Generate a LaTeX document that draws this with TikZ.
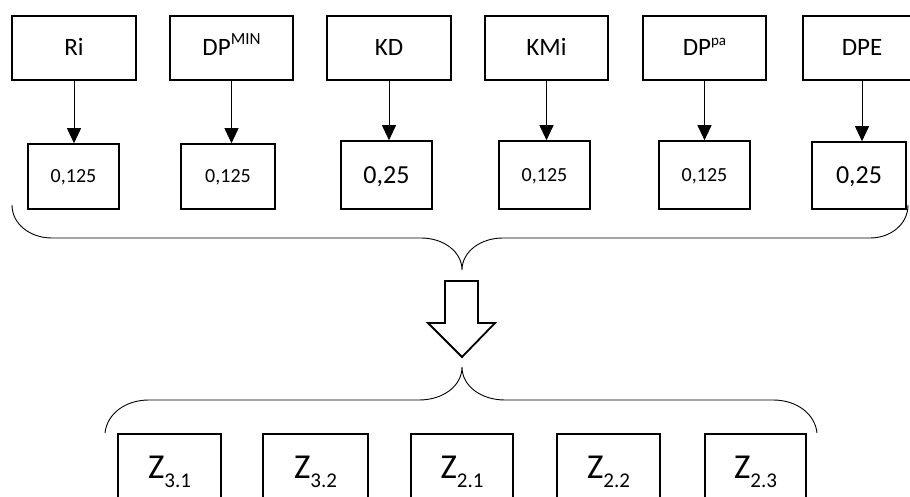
\documentclass[tikz,border=0pt]{standalone}
\usepackage{fontspec}
\setmainfont{Carlito}
\usetikzlibrary{arrows.meta}

\begin{document}
\begin{tikzpicture}[x=1pt,y=-1pt,
  box/.style={draw, line width=1.6pt, inner sep=0pt, anchor=center},
  topbox/.style={box, minimum width=124pt, minimum height=64pt,
    text height=16pt, text depth=0pt, font=\fontsize{25}{30}\selectfont},
  valbox/.style={box, minimum width=92pt, text depth=0pt},
  smallval/.style={valbox, minimum height=65pt, text height=13pt, font=\fontsize{20}{24}\selectfont},
  largeval/.style={valbox, minimum height=68pt, text height=17pt, font=\fontsize{26}{30}\selectfont},
  zbox/.style={box, minimum width=103pt, minimum height=65pt,
    text height=23pt, text depth=0pt, font=\fontsize{35}{40}\selectfont},
  feed/.style={line width=0.9pt, -{Triangle[width=14pt,length=15pt]}},
  brace/.style={line width=0.9pt},
  hollow/.style={line width=1.8pt, miter limit=10},
]
\clip (0,0) rectangle (910,497);
\fill[white] (0,0) rectangle (910,497);

% indicators
\node[topbox] (ri)   at (74,48)    {Ri};
\node[topbox, minimum width=123pt] (dpmin) at (231.5,48) {DP\raisebox{11pt}{\fontsize{17}{17}\selectfont MIN}};
\node[topbox] (kd)   at (389,48)   {KD};
\node[topbox, minimum width=123pt] (kmi)  at (546.5,48) {KMi};
\node[topbox, minimum width=123pt] (dppa) at (704.5,48) {DP\raisebox{10pt}{\fontsize{15}{15}\selectfont pa}};
\node[topbox, minimum width=118pt] (dpe)  at (862,48)   {DPE};

% weights
\node[smallval, minimum width=91pt] (wri)    at (73.5,176.5) {0,125};
\node[smallval, minimum width=94pt] (wdpmin) at (228,176.5)  {0,125};
\node[largeval, minimum width=91pt] (wkd)    at (386.5,175)  {0,25};
\node[smallval, minimum width=91pt, minimum height=68pt] (wkmi)  at (544.5,175) {0,125};
\node[smallval, minimum width=91pt, minimum height=68pt] (wdppa) at (704.5,175) {0,125};
\node[largeval, minimum width=94pt, minimum height=67pt] (wdpe)  at (859,175.5) {0,25};

\foreach \a/\b in {ri/wri, dpmin/wdpmin, kd/wkd, kmi/wkmi, dppa/wdppa, dpe/wdpe}
  \draw[feed] (\a.south) -- (\a.south |- \b.north);

% upper brace
\coordinate (ul) at (12,205);
\coordinate (ur) at (908,205);
\coordinate (utip) at (462,270);
\draw[brace] (ul) .. controls (12,224) and (30,238) .. (52,238)
  -- (421,238) .. controls (444,238) and (462,252) .. (utip)
  .. controls (462,252) and (480,238) .. (503,238)
  -- (870,238) .. controls (891,238) and (908,224) .. (ur);

% transition arrow
\draw[hollow] (445,281) -- (478,281) -- (478,323) -- (495,323) -- (462,357)
  -- (428,323) -- (445,323) -- cycle;

% lower brace
\coordinate (ll) at (105,433);
\coordinate (lr) at (817,433);
\coordinate (ltip) at (462,367);
\draw[brace] (ll) .. controls (107,414) and (125,400) .. (149,400)
  -- (419,400) .. controls (443,400) and (462,386) .. (ltip)
  .. controls (462,386) and (481,400) .. (505,400)
  -- (773,400) .. controls (797,400) and (815,414) .. (lr);

% zones
\newcommand{\zsub}[1]{\raisebox{-9pt}{\fontsize{21}{21}\selectfont #1}}
\node[zbox] (z31) at (169.5,466.5) {Z\zsub{3.1}};
\node[zbox, minimum width=105pt] (z32) at (315.5,466.5) {Z\zsub{3.2}};
\node[zbox, minimum width=102pt] (z21) at (462,466.5) {Z\zsub{2.1}};
\node[zbox] (z22) at (608.5,466.5) {Z\zsub{2.2}};
\node[zbox, minimum width=101pt] (z23) at (755.5,466.5) {Z\zsub{2.3}};
\end{tikzpicture}
\end{document}
